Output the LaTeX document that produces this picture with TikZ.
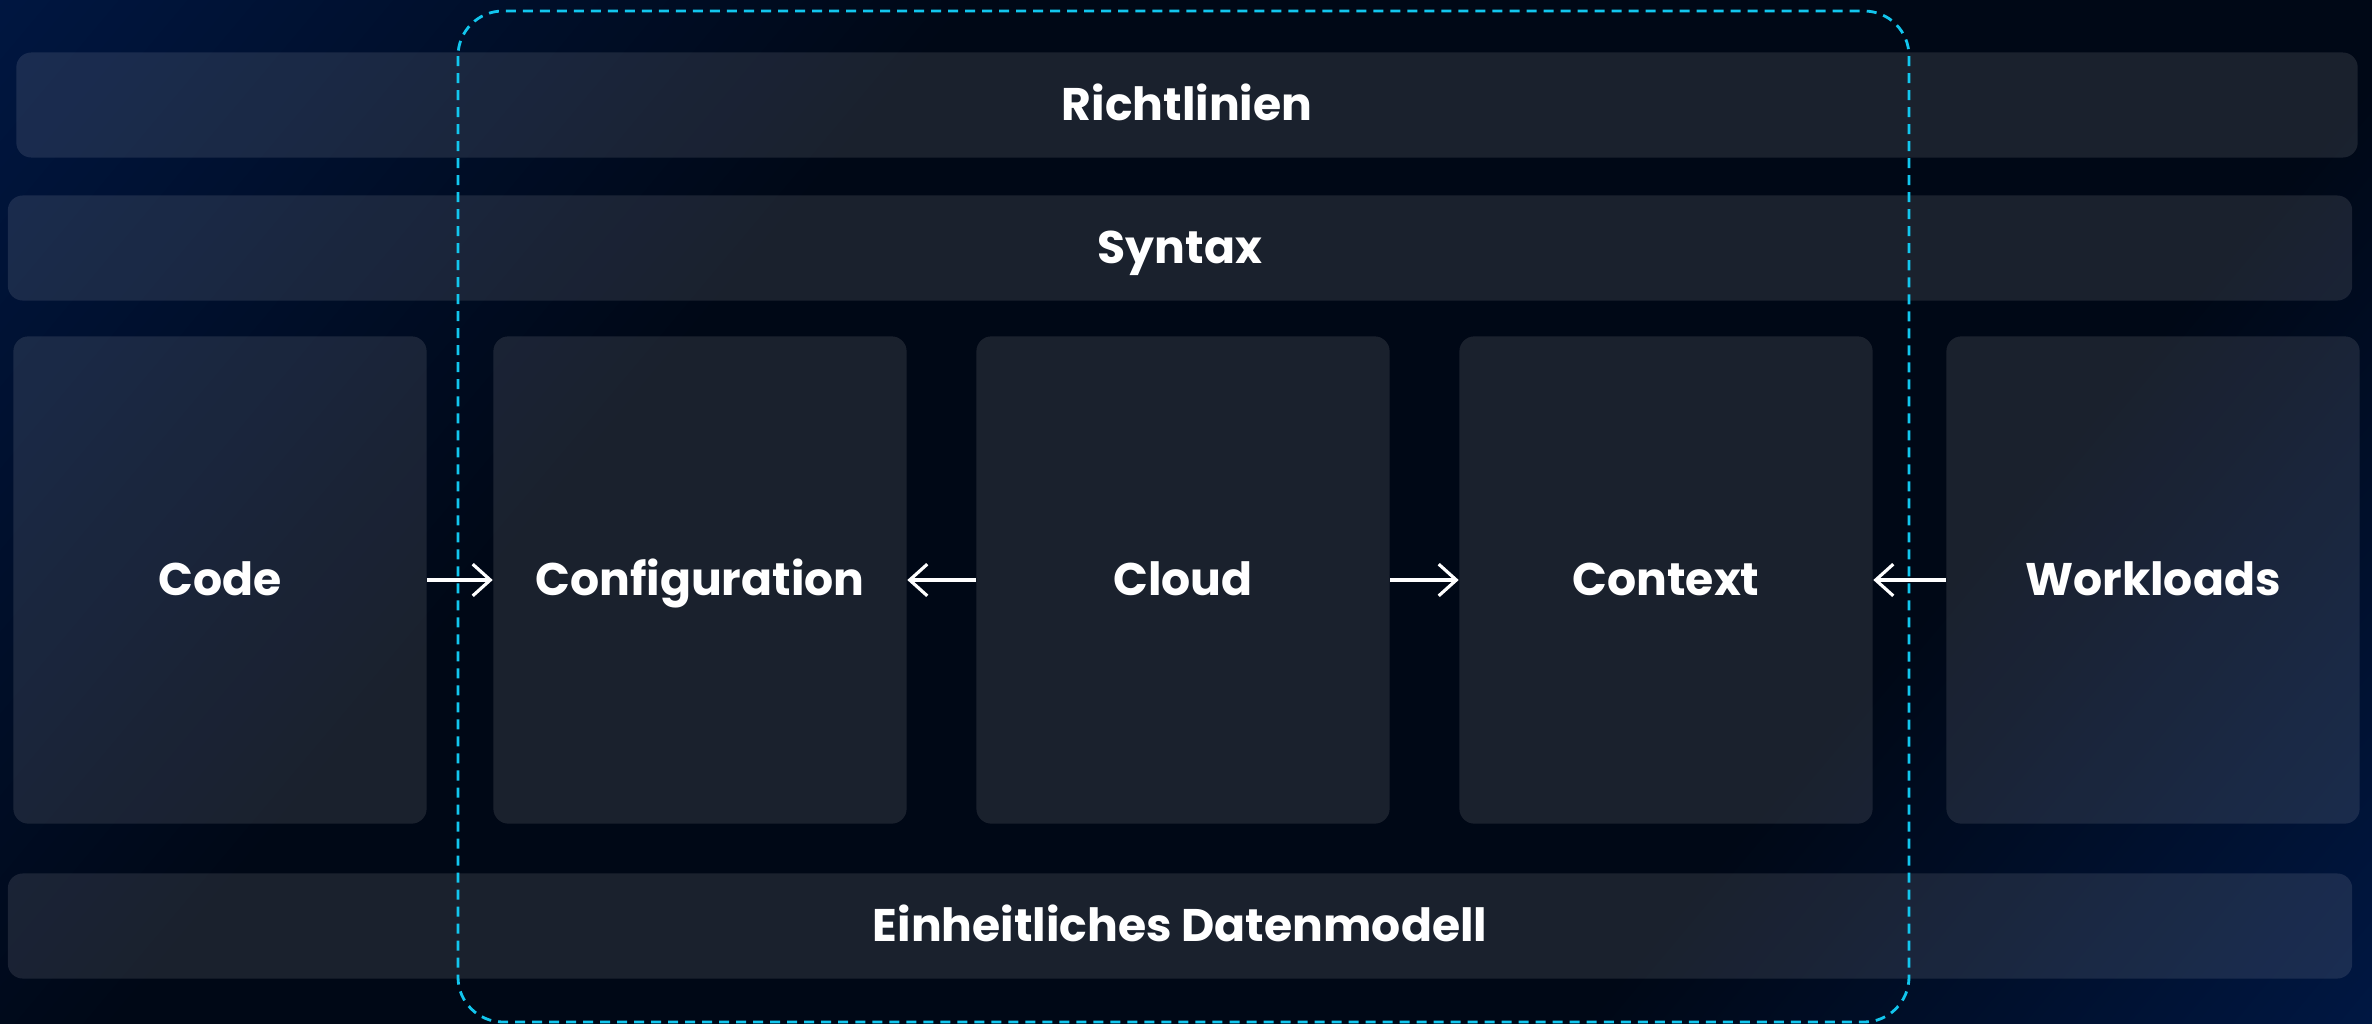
\documentclass[tikz,border=0pt]{standalone}
\usepackage{fontspec}
\setmainfont{Poppins}
\usetikzlibrary{arrows.meta}

\definecolor{bgblue}{HTML}{00205E}
\definecolor{bgdark}{HTML}{000816}
\definecolor{bgblue2}{HTML}{002468}
\definecolor{dashcyan}{HTML}{12C6EE}

\pgfdeclareverticalshading{bgshade}{100bp}{color(0bp)=(bgblue2); color(32bp)=(bgdark); color(64bp)=(bgdark); color(100bp)=(bgblue)}

\begin{document}
\begin{tikzpicture}[x=0.01cm,y=-0.01cm,
  layer/.style={rounded corners=0.15cm,fill=white,fill opacity=0.1,text opacity=1,
    text=white,font=\bfseries\fontsize{13}{15}\selectfont,inner sep=0pt,
    text height=0.9em,text depth=0pt},
  bar/.style={layer,minimum height=1.05cm},
  column/.style={layer,minimum width=4.13cm,minimum height=4.87cm},
  flow/.style={draw=white,line width=0.9pt,-{Straight Barb[length=5pt,width=9pt]}}]
\useasboundingbox (0,0) rectangle (2372,1024);

% Background
\shade[shading=bgshade,shading angle=50] (0,0) rectangle (2372,1024);

% Layers
\node[bar,minimum width=23.40cm] (rules) at (1187,105) {Richtlinien};
\node[bar,minimum width=23.43cm] (syntax) at (1180,248) {Syntax};
\node[bar,minimum width=23.43cm] (model) at (1180,926) {Einheitliches Datenmodell};

% Columns
\foreach \x/\name/\txt in {220/code/Code,700/config/Configuration,1183/cloud/Cloud,1666/context/Context,2153/workloads/Workloads} {
  \node[column] (\name) at (\x,580) {\txt};
}

% Dashed frame
\draw[dashcyan,line width=0.8pt,dash pattern=on 0.1cm off 0.07cm,rounded corners=0.45cm] (458,11) rectangle (1909,1022);

% Arrows
\foreach \a/\b in {code/config,cloud/config,cloud/context,workloads/context} {
  \draw[flow] (\a) -- (\b);
}

\end{tikzpicture}
\end{document}
